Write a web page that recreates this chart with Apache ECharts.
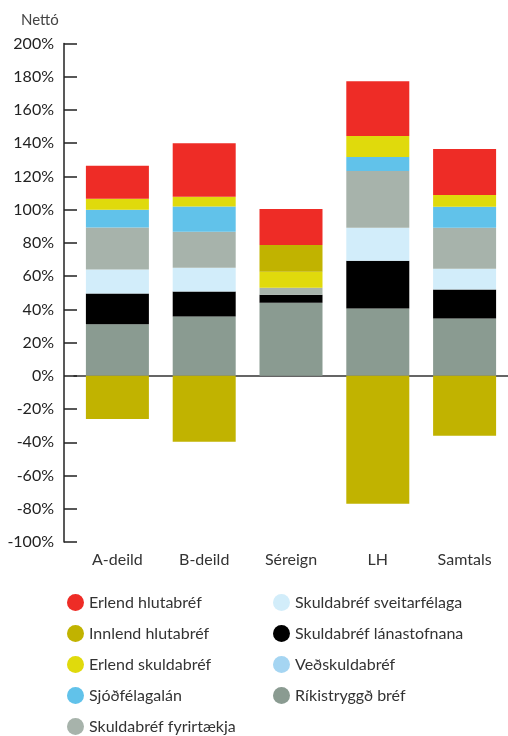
<!DOCTYPE html>
<html>
<head>
<meta charset="utf-8">
<script src="https://cdn.jsdelivr.net/npm/echarts@6/dist/echarts.min.js"></script>
<style>
  html, body { margin: 0; padding: 0; background: #fff; }
  #chart { width: 508px; height: 736px; }
</style>
</head>
<body>
<div id="chart"></div>
<script>
const categories = ['A-deild', 'B-deild', 'Séreign', 'LH', 'Samtals']

// % of net, stacked bottom -> top
const rikistryggd = [31, 35.7, 44, 40.5, 34.5]
const lanastofnana = [18.6, 15, 4.8, 28.8, 17.4]
const sveitarfelaga = [14.4, 14.4, 0, 19.8, 12.6]
const vedskuldabref = [0, 0, 0, 0, 0]
const fyrirtaekja = [25.2, 21.6, 4.2, 34.2, 24.6]
const sjodfelagalan = [10.8, 15.2, 0, 8.4, 12.6]
const erlendSkuldabref = [6.6, 5.8, 9.6, 12.6, 7.2]
const innlendHlutabref = [-26, -39.7, 16.2, -77, -36]
const erlendHlutabref = [19.8, 32.3, 21.6, 33, 27.6]

const yTicks = { min: -100, max: 200, interval: 20 }

const font = 'Lato'

const seriesDefs = [
  { name: 'Ríkistryggð bréf', data: rikistryggd, color: '#8a9b91' },
  { name: 'Skuldabréf lánastofnana', data: lanastofnana, color: '#000000' },
  { name: 'Skuldabréf sveitarfélaga', data: sveitarfelaga, color: '#d2edfa' },
  { name: 'Veðskuldabréf', data: vedskuldabref, color: '#a5d5f2' },
  { name: 'Skuldabréf fyrirtækja', data: fyrirtaekja, color: '#a7b3ab' },
  { name: 'Sjóðfélagalán', data: sjodfelagalan, color: '#61c2ea' },
  { name: 'Erlend skuldabréf', data: erlendSkuldabref, color: '#e0da0c' },
  { name: 'Innlend hlutabréf', data: innlendHlutabref, color: '#c1b300' },
  { name: 'Erlend hlutabréf', data: erlendHlutabref, color: '#ee2c26' }
]

const legendLeft = ['Erlend hlutabréf', 'Innlend hlutabréf', 'Erlend skuldabréf', 'Sjóðfélagalán', 'Skuldabréf fyrirtækja']
const legendRight = ['Skuldabréf sveitarfélaga', 'Skuldabréf lánastofnana', 'Veðskuldabréf', 'Ríkistryggð bréf']

const legendBase = {
  orient: 'vertical',
  top: 594,
  padding: 0,
  icon: 'circle',
  itemWidth: 17,
  itemHeight: 17,
  itemGap: 14,
  selectedMode: false,
  textStyle: { fontFamily: font, fontSize: 16, color: '#333' }
}

const chart = echarts.init(document.getElementById('chart'))

chart.setOption({
  animation: false,
  textStyle: { fontFamily: font },
  title: {
    text: 'Nettó',
    left: 16,
    top: 8,
    textStyle: { fontFamily: font, fontSize: 15, fontWeight: 'normal', color: '#444' }
  },
  legend: [
    Object.assign({}, legendBase, { left: 67, data: legendLeft }),
    Object.assign({}, legendBase, { left: 273, data: legendRight })
  ],
  grid: {
    left: 74,
    width: 440,
    top: 43.5,
    bottom: 194
  },
  xAxis: [
    {
      type: 'category',
      data: categories,
      position: 'bottom',
      axisLine: { show: false, onZero: false },
      axisTick: { show: false },
      axisLabel: { fontFamily: font, fontSize: 16, color: '#333', margin: 10 }
    },
    {
      // zero line only
      type: 'category',
      data: categories,
      axisLine: { show: true, onZero: true, lineStyle: { color: '#333', width: 1.5 } },
      axisTick: { show: false },
      axisLabel: { show: false }
    }
  ],
  yAxis: {
    type: 'value',
    min: yTicks.min,
    max: yTicks.max,
    interval: yTicks.interval,
    offset: 10,
    axisLine: { show: true, lineStyle: { color: '#222', width: 1.5 } },
    axisTick: { show: true, inside: true, length: 13, lineStyle: { color: '#222', width: 1.5 } },
    splitLine: { show: false },
    axisLabel: {
      formatter: '{value}%',
      fontFamily: font,
      fontSize: 16,
      color: '#222',
      margin: 10
    }
  },
  series: seriesDefs.map(s => ({
    name: s.name,
    type: 'bar',
    stack: 'total',
    barWidth: 63,
    itemStyle: { color: s.color },
    data: s.data
  }))
})
</script>
</body>
</html>
